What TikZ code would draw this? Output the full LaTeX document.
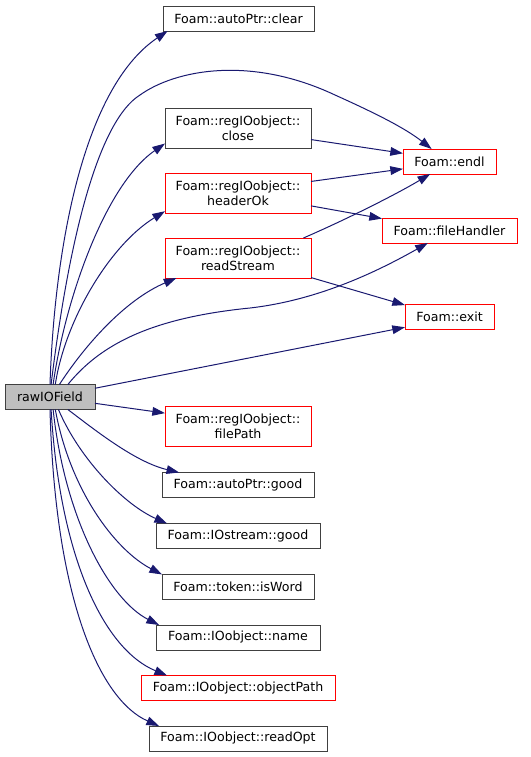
\documentclass[tikz,border=0pt]{standalone}
\usepackage{fontspec}
\setmainfont{DejaVu Sans}
\usetikzlibrary{arrows.meta}
\definecolor{midnight}{HTML}{191970}
\tikzset{
  fn/.style={draw=black!75, line width=0.75pt, inner sep=0pt, outer sep=0pt,
    minimum height=18.75pt, align=center, font=\fontsize{9.45}{11.25}\selectfont},
  fntwo/.style={minimum height=30pt},
  fnred/.style={fn, draw=red},
  fnroot/.style={fn, fill=black!25},
  call/.style={draw=midnight, line width=0.75pt,
    -{Triangle[length=9.5pt,width=6.5pt,fill=midnight]}},
}
\begin{document}
\begin{tikzpicture}[x=0.75pt,y=-0.75pt]
\useasboundingbox (0,0) rectangle (531,757);

% caller
\node[fnroot, minimum width=67.5pt] (raw) at (50,397) {rawIOField};

% first level
\node[fn, minimum width=113.25pt] (clear) at (238.5,18.5) {Foam::autoPtr::clear};
\node[fn, fntwo, minimum width=109.5pt] (close) at (238,128) {Foam::regIOobject::\\close};
\node[fnred, fntwo, minimum width=109.5pt] (headerok) at (238,193) {Foam::regIOobject::\\headerOk};
\node[fnred, fntwo, minimum width=109.5pt] (readstream) at (238,258) {Foam::regIOobject::\\readStream};
\node[fnred, fntwo, minimum width=109.5pt] (filepath) at (238,426) {Foam::regIOobject::\\filePath};
\node[fn, minimum width=114pt] (ptrgood) at (238,485) {Foam::autoPtr::good};
\node[fn, minimum width=123pt] (iogood) at (238,536) {Foam::IOstream::good};
\node[fn, minimum width=114pt] (isword) at (238,586.5) {Foam::token::isWord};
\node[fn, minimum width=123pt] (name) at (238,637.5) {Foam::IOobject::name};
\node[fnred, minimum width=145.5pt] (objpath) at (238,688) {Foam::IOobject::objectPath};
\node[fn, minimum width=133.5pt] (readopt) at (238,738.5) {Foam::IOobject::readOpt};

% second level
\node[fnred, minimum width=69.75pt] (endl) at (449.5,161.5) {Foam::endl};
\node[fnred, minimum width=101.25pt] (filehandler) at (449.5,230.5) {Foam::fileHandler};
\node[fnred, minimum width=66.75pt] (exit) at (449.5,317) {Foam::exit};

% calls from rawIOField
\draw[call] (raw.90) .. controls (54,260) and (80,90) .. (clear.190);
\draw[call] (raw.85) .. controls (70,230) and (100,120) .. (140,95)
  .. controls (175,70) and (250,55) .. (335,95)
  .. controls (375,113) and (405,128) .. (endl.145);
\draw[call] (raw.76) .. controls (65,300) and (105,185) .. (close.192);
\draw[call] (raw.67) .. controls (65,320) and (110,245) .. (headerok.194);
\draw[call] (raw.53) .. controls (85,345) and (125,300) .. (readstream.198);
\draw[call] (raw.35) .. controls (100,345) and (150,318) .. (250,308)
  .. controls (320,300) and (380,270) .. (filehandler.210);
\draw[call] (raw.11) -- (exit.193);
\draw[call] (raw.-8) -- (filepath.170);
\draw[call] (raw.-35) .. controls (95,430) and (135,462) .. (ptrgood.168);
\draw[call] (raw.-56) .. controls (80,460) and (125,505) .. (iogood.170);
\draw[call] (raw.-67) .. controls (70,490) and (115,550) .. (isword.171);
\draw[call] (raw.-76) .. controls (65,520) and (110,600) .. (name.171);
\draw[call] (raw.-85) .. controls (60,560) and (105,650) .. (objpath.170);
\draw[call] (raw.-90) .. controls (55,600) and (100,700) .. (readopt.171);

% calls between callees
\draw[call] (close.-9) -- (endl.170);
\draw[call] (headerok.9) -- (endl.189);
\draw[call] (headerok.-10) -- (filehandler.170);
\draw[call] (readstream.17) .. controls (345,220) and (395,195) .. (endl.213);
\draw[call] (readstream.-15) -- (exit.165);
\end{tikzpicture}
\end{document}
